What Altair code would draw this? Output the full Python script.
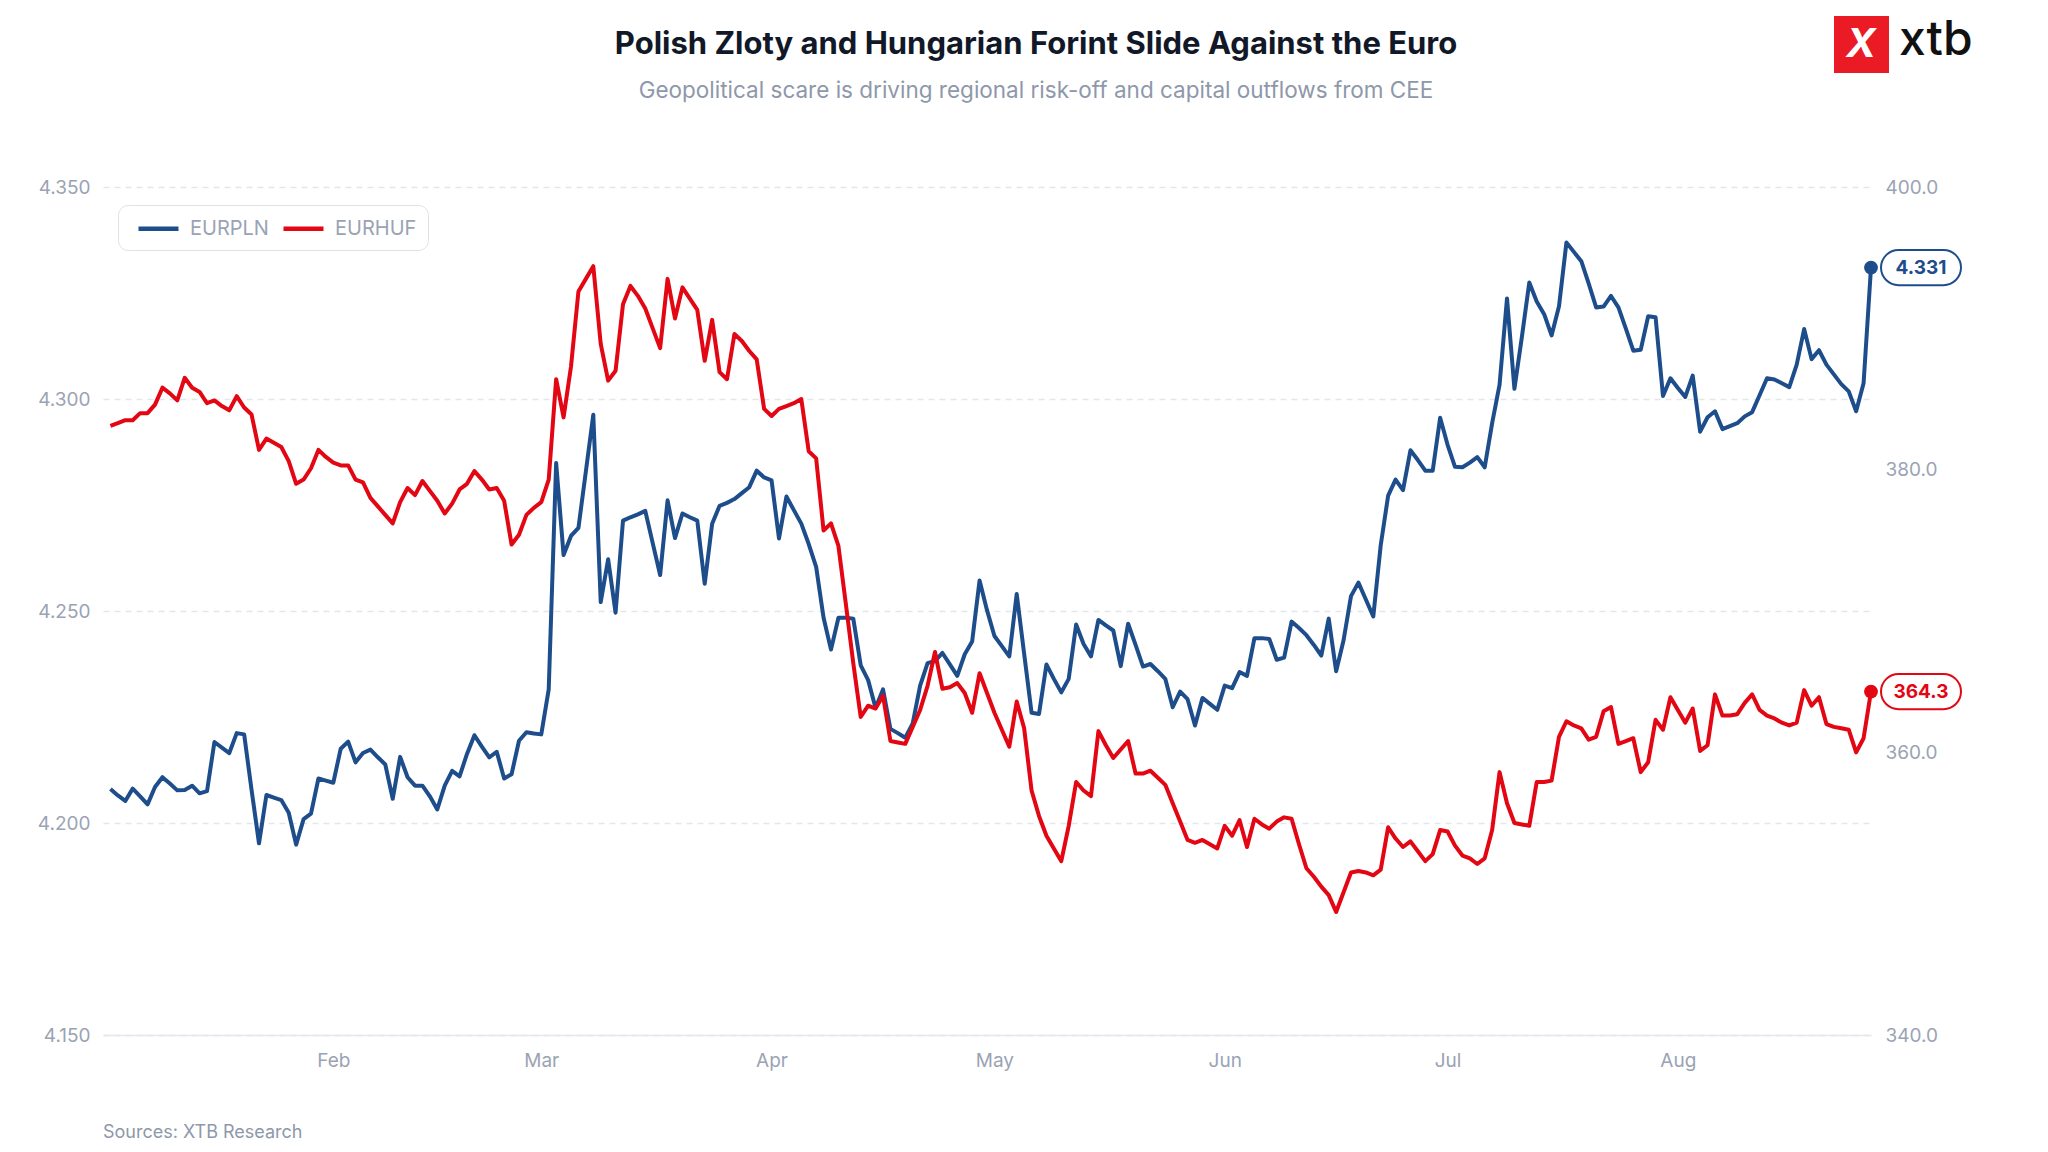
import altair as alt
import pandas as pd

BLUE = "#1e4d8c"
RED = "#e30613"
GRAY = "#9aa3b4"
GRID = "#e3e6ec"
FONT = "Inter"

TITLE = "Polish Zloty and Hungarian Forint Slide Against the Euro"
SUBTITLE = "Geopolitical scare is driving regional risk-off and capital outflows from CEE"
SOURCE = "Sources: XTB Research"

START = "2025-01-02"
END = "2025-08-27"
MONTH_TICKS = [2, 3, 4, 5, 6, 7, 8]

PLN_TICKS = [4.15, 4.20, 4.25, 4.30, 4.35]
HUF_TICKS = [340, 360, 380, 400]

# daily closes, Jan 2 .. Aug 27
EURPLN = [
    4.2080, 4.2065, 4.2052, 4.2081, 4.2063, 4.2044, 4.2085, 4.2108, 4.2093, 4.2077,
    4.2078, 4.2088, 4.2070, 4.2075, 4.2191, 4.2178, 4.2165, 4.2212, 4.2209, 4.2078,
    4.1952, 4.2066, 4.2060, 4.2054, 4.2024, 4.1949, 4.2009, 4.2022, 4.2105, 4.2100,
    4.2095, 4.2175, 4.2192, 4.2143, 4.2165, 4.2173, 4.2155, 4.2138, 4.2057, 4.2156,
    4.2108, 4.2088, 4.2088,
    4.2063, 4.2032, 4.2088, 4.2123, 4.2110, 4.2163, 4.2207, 4.2180, 4.2155, 4.2168,
    4.2105, 4.2115, 4.2194, 4.2214, 4.2211, 4.2209, 4.2315, 4.2849, 4.2632, 4.2677,
    4.2696, 4.2829, 4.2963, 4.2521, 4.2622, 4.2496, 4.2713, 4.2721, 4.2728, 4.2736,
    4.2660, 4.2585, 4.2761, 4.2672, 4.2730, 4.2721, 4.2713, 4.2564, 4.2706, 4.2748,
    4.2755,
    4.2764, 4.2778, 4.2792, 4.2831, 4.2815, 4.2808, 4.2671, 4.2770, 4.2738, 4.2706,
    4.2658, 4.2604, 4.2484, 4.2409, 4.2484, 4.2484, 4.2482, 4.2372, 4.2337, 4.2271,
    4.2315, 4.2222, 4.2212, 4.2201, 4.2235, 4.2324, 4.2377, 4.2382, 4.2401, 4.2374,
    4.2347, 4.2398, 4.2428, 4.2572, 4.2502, 4.2441, 4.2417, 4.2393, 4.2540, 4.2399,
    4.2260,
    4.2257, 4.2374, 4.2340, 4.2308, 4.2340, 4.2468, 4.2422, 4.2393, 4.2479, 4.2466,
    4.2454, 4.2370, 4.2470, 4.2420, 4.2369, 4.2375, 4.2358, 4.2340, 4.2273, 4.2310,
    4.2292, 4.2230, 4.2295, 4.2281, 4.2267, 4.2324, 4.2318, 4.2356, 4.2347, 4.2436,
    4.2436, 4.2434, 4.2385, 4.2390, 4.2475, 4.2460, 4.2443, 4.2420, 4.2395, 4.2482,
    4.2358,
    4.2431, 4.2535, 4.2567, 4.2527, 4.2487, 4.2655, 4.2772, 4.2810, 4.2785, 4.2879,
    4.2856, 4.2831, 4.2831, 4.2956, 4.2892, 4.2840, 4.2839, 4.2850, 4.2863, 4.2839,
    4.2943, 4.3034, 4.3237, 4.3024, 4.3146, 4.3275, 4.3230, 4.3200, 4.3150, 4.3219,
    4.3369, 4.3347, 4.3325, 4.3272, 4.3216, 4.3218, 4.3243, 4.3216, 4.3166, 4.3114,
    4.3116,
    4.3195, 4.3193, 4.3007, 4.3049, 4.3026, 4.3005, 4.3055, 4.2923, 4.2957, 4.2971,
    4.2929, 4.2936, 4.2943, 4.2959, 4.2969, 4.3009, 4.3049, 4.3046, 4.3037, 4.3028,
    4.3081, 4.3165, 4.3094, 4.3115, 4.3081, 4.3058, 4.3035, 4.3018, 4.2971, 4.3037,
    4.3310,
]

EURHUF = [
    383.1, 383.3, 383.5, 383.5, 384.0, 384.0, 384.6, 385.8, 385.4, 384.9,
    386.5, 385.8, 385.5, 384.7, 384.9, 384.5, 384.2, 385.2, 384.4, 383.9,
    381.4, 382.2, 381.9, 381.6, 380.6, 379.0, 379.3, 380.1, 381.4, 380.9,
    380.5, 380.3, 380.3, 379.3, 379.1, 378.0, 377.4, 376.8, 376.2, 377.7,
    378.7, 378.2, 379.2,
    378.5, 377.8, 376.9, 377.6, 378.6, 379.0, 379.9, 379.3, 378.6, 378.7,
    377.8, 374.7, 375.4, 376.8, 377.3, 377.7, 379.3, 386.4, 383.7, 387.3,
    392.6, 393.5, 394.4, 388.9, 386.3, 387.0, 391.7, 393.0, 392.3, 391.4,
    390.0, 388.6, 393.5, 390.7, 392.9, 392.1, 391.3, 387.7, 390.6, 386.9,
    386.4,
    389.6, 389.1, 388.4, 387.8, 384.3, 383.8, 384.3, 384.5, 384.7, 385.0,
    381.3, 380.8, 375.7, 376.2, 374.6, 370.5, 366.3, 362.5, 363.3, 363.1,
    364.0, 360.8, 360.7, 360.6, 361.8, 363.0, 364.7, 367.1, 364.5, 364.6,
    364.9, 364.2, 362.8, 365.6, 364.2, 362.8, 361.6, 360.4, 363.6, 361.7,
    357.3,
    355.5, 354.1, 353.2, 352.3, 354.8, 357.9, 357.3, 356.9, 361.5, 360.5,
    359.6, 360.2, 360.8, 358.5, 358.5, 358.7, 358.2, 357.7, 356.4, 355.1,
    353.8, 353.6, 353.8, 353.5, 353.2, 354.8, 354.1, 355.2, 353.3, 355.3,
    354.9, 354.6, 355.1, 355.4, 355.3, 353.5, 351.8, 351.2, 350.5, 349.9,
    348.7,
    350.1, 351.5, 351.6, 351.5, 351.3, 351.7, 354.7, 353.9, 353.3, 353.7,
    353.0, 352.3, 352.8, 354.5, 354.4, 353.4, 352.7, 352.5, 352.1, 352.5,
    354.5, 358.6, 356.4, 355.0, 354.9, 354.8, 357.9, 357.9, 358.0, 361.1,
    362.2, 361.9, 361.7, 360.9, 361.1, 362.9, 363.2, 360.6, 360.8, 361.0,
    358.6,
    359.3, 362.3, 361.6, 363.9, 363.0, 362.1, 363.1, 360.1, 360.5, 364.1,
    362.6, 362.6, 362.7, 363.5, 364.1, 363.0, 362.6, 362.4, 362.1, 361.9,
    362.1, 364.4, 363.3, 363.9, 362.0, 361.8, 361.7, 361.6, 360.0, 361.0,
    364.3,
]

# stadium shape for the end-value badges
PILL = "M -0.56 -0.44 L 0.56 -0.44 A 0.44 0.44 0 0 1 0.56 0.44 L -0.56 0.44 A 0.44 0.44 0 0 1 -0.56 -0.44 Z"
# legend sample: a short horizontal stroke drawn twice as wide as its slot
DASH = "M -2 0 L 2 0"


def series_frame(name, values):
    dates = pd.date_range(START, END, periods=len(values))
    return pd.DataFrame({"date": dates, "series": name, "value": values})


def last_frame(df, fmt):
    last = df.tail(1).copy()
    last["label"] = last["value"].map(lambda v: format(v, fmt))
    return last


x_enc = alt.X(
    "date:T",
    scale=alt.Scale(
        domain=[
            alt.DateTime(year=2025, month=1, date=1),
            alt.DateTime(year=2025, month=8, date=27),
        ]
    ),
    axis=alt.Axis(
        title=None,
        format="%b",
        values=[alt.DateTime(year=2025, month=m, date=1) for m in MONTH_TICKS],
        ticks=False,
        grid=False,
        domainColor=GRID,
        domainWidth=1.5,
        labelPadding=16,
        labelFontSize=19,
        labelColor=GRAY,
        labelFont=FONT,
    ),
)

colour = alt.Color(
    "series:N",
    scale=alt.Scale(domain=["EURPLN", "EURHUF"], range=[BLUE, RED]),
    legend=alt.Legend(
        title=None,
        orient="none",
        legendX=15,
        legendY=18,
        direction="horizontal",
        symbolType=DASH,
        symbolStrokeWidth=4.5,
        symbolSize=400,
        symbolOffset=17,
        labelFontSize=20,
        labelColor=GRAY,
        labelFont=FONT,
        labelOffset=19,
        columnPadding=5,
        strokeColor="#dde1e8",
        fillColor="white",
        cornerRadius=10,
        padding=11,
    ),
)


def series_layer(df, y_enc, colour_hex, fmt):
    last = last_frame(df, fmt)
    line = (
        alt.Chart(df)
        .mark_line(strokeWidth=4, strokeJoin="round")
        .encode(x=x_enc, y=y_enc, color=colour)
    )
    dot = (
        alt.Chart(last)
        .mark_circle(size=190, color=colour_hex, opacity=1)
        .encode(x=x_enc, y=y_enc)
    )
    badge = (
        alt.Chart(last)
        .mark_point(
            shape=PILL, size=6400, filled=True, fill="white", stroke=colour_hex,
            strokeWidth=2, opacity=1, xOffset=50,
        )
        .encode(x=x_enc, y=y_enc)
    )
    text = (
        alt.Chart(last)
        .mark_text(dx=50, fontSize=19, fontWeight="bold", color=colour_hex, font=FONT)
        .encode(x=x_enc, y=y_enc, text="label:N")
    )
    return alt.layer(line, dot, badge, text)


pln = series_frame("EURPLN", EURPLN)
huf = series_frame("EURHUF", EURHUF)

y_pln = alt.Y(
    "value:Q",
    scale=alt.Scale(domain=[4.15, 4.35], zero=False, nice=False),
    axis=alt.Axis(
        title=None,
        values=PLN_TICKS,
        format=".3f",
        ticks=False,
        domain=False,
        grid=True,
        gridColor=GRID,
        gridDash=[6, 5],
        gridWidth=1.5,
        labelPadding=13,
        labelFontSize=19,
        labelColor=GRAY,
        labelFont=FONT,
    ),
)

y_huf = alt.Y(
    "value:Q",
    scale=alt.Scale(domain=[340, 400], zero=False, nice=False),
    axis=alt.Axis(
        title=None,
        orient="right",
        values=HUF_TICKS,
        format=".1f",
        ticks=False,
        domain=False,
        grid=False,
        labelPadding=14,
        labelFontSize=19,
        labelColor=GRAY,
        labelFont=FONT,
    ),
)

lines = alt.layer(
    series_layer(pln, y_pln, BLUE, ".3f"),
    series_layer(huf, y_huf, RED, ".1f"),
).resolve_scale(y="independent")


def note(text, x, y, **style):
    return (
        alt.Chart(pd.DataFrame({"t": [text]}))
        .mark_text(font=FONT, **style)
        .encode(text="t:N", x=alt.value(x), y=alt.value(y))
    )


title = note(TITLE, 933, -142, fontSize=31, fontWeight="bold", color="#111827", align="center", baseline="middle")
subtitle = note(SUBTITLE, 933, -96, fontSize=22.5, color="#8e98aa", align="center", baseline="middle")
source = note(SOURCE, 0, 946, fontSize=18, color="#8e98aa", align="left", baseline="middle")

logo_box = (
    alt.Chart(pd.DataFrame({"t": ["logo"]}))
    .mark_rect(color="#ea1b24")
    .encode(x=alt.value(1731), x2=alt.value(1786), y=alt.value(-171), y2=alt.value(-114))
)
logo_x = note("X", 1758, -142, fontSize=40, fontWeight="bold", fontStyle="italic", color="white", align="center", baseline="middle")
logo_word = note("xtb", 1796, -146, fontSize=48, fontWeight=500, color="#111111", align="left", baseline="middle")

chart = (
    alt.layer(lines, title, subtitle, source, logo_box, logo_x, logo_word)
    .properties(
        width=1768,
        height=848,
        autosize=alt.AutoSizeParams(type="none"),
        padding={"left": 95, "top": 179, "right": 169, "bottom": 109},
        background="white",
    )
    .configure_view(strokeWidth=0)
)

chart.save("out.html", embed_options={"renderer": "svg", "actions": False})
